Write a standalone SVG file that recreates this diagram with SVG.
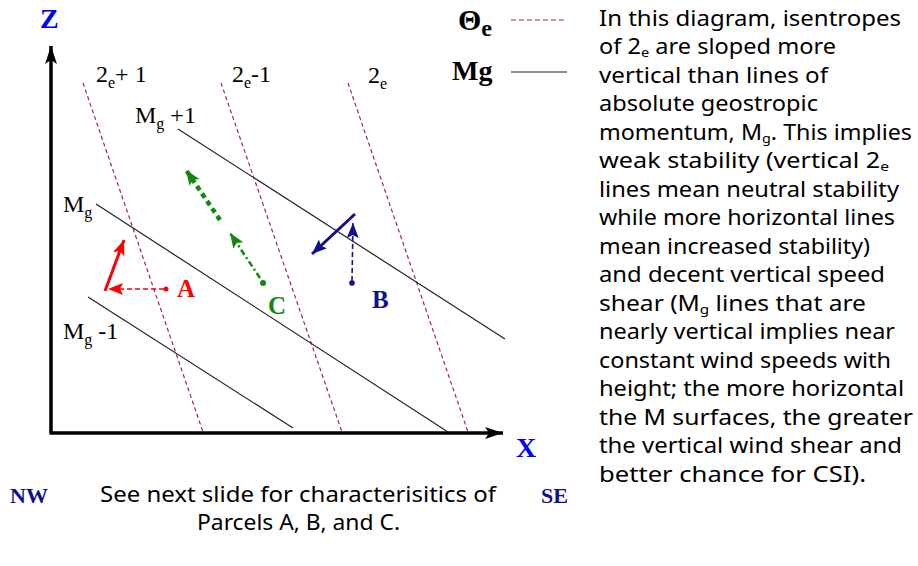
<svg xmlns="http://www.w3.org/2000/svg" width="918" height="566" viewBox="0 0 918 566">
<style>
.serif{font-family:"Liberation Serif","Times New Roman",serif;fill:#000}
.lbl{font-size:24px}
.sub{font-size:16px}
.body{font-family:"Noto Sans","Open Sans",sans-serif;font-size:21px;fill:#000}
.bsub{font-size:13px}
.ise{stroke:#a52a2a;stroke-width:1.2;stroke-dasharray:4,3;fill:none}
.mg{stroke:#222;stroke-width:1.2;fill:none}
.axis{stroke:#000;stroke-width:3.5;fill:none}
.bold{font-weight:bold}
</style>
<defs>
<marker id="ahK" markerUnits="userSpaceOnUse" markerWidth="20" markerHeight="14" refX="18" refY="6" orient="auto"><path d="M0,0 L18,6 L0,12 L4,6 z" fill="#000"/></marker>
<marker id="ahR" markerUnits="userSpaceOnUse" markerWidth="18" markerHeight="14" refX="15" refY="6" orient="auto"><path d="M0,0 L15,6 L0,12 L3,6 z" fill="#ff0000"/></marker>
<marker id="ahG" markerUnits="userSpaceOnUse" markerWidth="18" markerHeight="14" refX="15" refY="6" orient="auto"><path d="M0,0 L15,6 L0,12 L3,6 z" fill="#118811"/></marker>
<marker id="ahB" markerUnits="userSpaceOnUse" markerWidth="18" markerHeight="14" refX="15" refY="6" orient="auto"><path d="M0,0 L15,6 L0,12 L3,6 z" fill="#10108a"/></marker>
</defs>

<g id="axes">
<line class="axis" x1="51" y1="433" x2="51" y2="46" marker-end="url(#ahK)"/>
<line class="axis" x1="49.5" y1="433" x2="503" y2="433" marker-end="url(#ahK)"/>
<text x="40" y="28" class="serif bold" font-size="28" style="fill:#0000ff">Z</text>
<text x="516" y="457" class="serif bold" font-size="28" style="fill:#0000ff">X</text>
</g>

<g id="isentropes">
<line class="ise" x1="83" y1="83" x2="203" y2="432"/>
<line class="ise" x1="221" y1="83" x2="342" y2="432"/>
<line class="ise" x1="348" y1="83" x2="468" y2="432"/>
<text class="serif lbl" x="96" y="82">2<tspan class="sub" dy="6">e</tspan><tspan dy="-6">+ 1</tspan></text>
<text class="serif lbl" x="232" y="82">2<tspan class="sub" dy="6">e</tspan><tspan dy="-6">-1</tspan></text>
<text class="serif lbl" x="368" y="83">2<tspan class="sub" dy="6">e</tspan></text>
</g>

<g id="momentum">
<line class="mg" x1="178" y1="129" x2="505" y2="339"/>
<line class="mg" x1="96" y1="204" x2="448" y2="432"/>
<line class="mg" x1="88" y1="297" x2="293" y2="428"/>
<text class="serif lbl" x="135" y="123">M<tspan class="sub" dy="6">g</tspan><tspan dy="-6"> +1</tspan></text>
<text class="serif lbl" x="63" y="212">M<tspan class="sub" dy="6">g</tspan></text>
<text class="serif lbl" x="63" y="339">M<tspan class="sub" dy="6">g</tspan><tspan dy="-6"> -1</tspan></text>
</g>

<g id="legend">
<text class="serif bold" x="458" y="30" font-size="30">Θ<tspan dy="6" font-size="24">e</tspan></text>
<line x1="511" y1="20" x2="567" y2="20" stroke="#b22222" stroke-width="1.2" stroke-dasharray="5,3"/>
<text class="serif bold" x="452" y="80" font-size="28">Mg</text>
<line x1="511" y1="72" x2="567" y2="72" stroke="#222" stroke-width="1.2"/>
</g>

<g id="parcelA">
<circle cx="166" cy="289" r="2.5" fill="#ff0000"/>
<line x1="164" y1="289" x2="108" y2="289" stroke="#ff0000" stroke-width="1.6" stroke-dasharray="5,3" marker-end="url(#ahR)"/>
<line x1="105" y1="291" x2="124" y2="240" stroke="#ff0000" stroke-width="3" marker-end="url(#ahR)"/>
<text class="serif bold" x="177" y="297" font-size="25" style="fill:#ff0000">A</text>
</g>

<g id="parcelC">
<circle cx="263" cy="283" r="3" fill="#118811"/>
<line x1="260" y1="278" x2="230" y2="233" stroke="#118811" stroke-width="2.5" stroke-dasharray="6,3,2,3" marker-end="url(#ahG)"/>
<line x1="220" y1="220" x2="186" y2="170" stroke="#118811" stroke-width="4.5" stroke-dasharray="5,4" marker-end="url(#ahG)"/>
<text class="serif bold" x="268" y="314" font-size="25" style="fill:#118811">C</text>
</g>

<g id="parcelB">
<circle cx="352" cy="283" r="2.8" fill="#10108a"/>
<line x1="352" y1="281" x2="353" y2="223" stroke="#10108a" stroke-width="1.6" stroke-dasharray="5,3" marker-end="url(#ahB)"/>
<line x1="355" y1="214" x2="312" y2="254" stroke="#10108a" stroke-width="3" marker-end="url(#ahB)"/>
<text class="serif bold" x="372" y="308" font-size="25" style="fill:#10108a">B</text>
</g>

<g id="directions">
<text class="serif bold" x="10" y="503" font-size="22" style="fill:#10108a">NW</text>
<text class="serif bold" x="541" y="503" font-size="22" style="fill:#10108a">SE</text>
</g>

<g id="caption">
<text class="body" x="100" y="502" textLength="396" lengthAdjust="spacingAndGlyphs">See next slide for characterisitics of</text>
<text class="body" x="197" y="530" textLength="203" lengthAdjust="spacingAndGlyphs">Parcels A, B, and C.</text>
</g>

<g id="explanation">
<text class="body" x="599" y="26" textLength="302" lengthAdjust="spacingAndGlyphs">In this diagram, isentropes</text>
<text class="body" x="599" y="54" textLength="237" lengthAdjust="spacingAndGlyphs">of 2<tspan class="bsub" dy="3">e</tspan><tspan dy="-3"> are sloped more</tspan></text>
<text class="body" x="599" y="83" textLength="229" lengthAdjust="spacingAndGlyphs">vertical than lines of</text>
<text class="body" x="599" y="111" textLength="219" lengthAdjust="spacingAndGlyphs">absolute geostropic</text>
<text class="body" x="599" y="140" textLength="313" lengthAdjust="spacingAndGlyphs">momentum, M<tspan class="bsub" dy="3">g</tspan><tspan dy="-3">.  This implies</tspan></text>
<text class="body" x="599" y="168" textLength="290" lengthAdjust="spacingAndGlyphs">weak stability (vertical 2<tspan class="bsub" dy="3">e</tspan></text>
<text class="body" x="599" y="197" textLength="300" lengthAdjust="spacingAndGlyphs">lines mean neutral stability</text>
<text class="body" x="599" y="225" textLength="296" lengthAdjust="spacingAndGlyphs">while more horizontal lines</text>
<text class="body" x="599" y="254" textLength="271" lengthAdjust="spacingAndGlyphs">mean increased stability)</text>
<text class="body" x="599" y="282" textLength="286" lengthAdjust="spacingAndGlyphs">and decent vertical speed</text>
<text class="body" x="599" y="311" textLength="267" lengthAdjust="spacingAndGlyphs">shear (M<tspan class="bsub" dy="3">g</tspan><tspan dy="-3"> lines that are</tspan></text>
<text class="body" x="599" y="339" textLength="296" lengthAdjust="spacingAndGlyphs">nearly vertical implies near</text>
<text class="body" x="599" y="368" textLength="292" lengthAdjust="spacingAndGlyphs">constant wind speeds with</text>
<text class="body" x="599" y="396" textLength="305" lengthAdjust="spacingAndGlyphs">height; the more horizontal</text>
<text class="body" x="599" y="425" textLength="314" lengthAdjust="spacingAndGlyphs">the M surfaces, the greater</text>
<text class="body" x="599" y="453" textLength="303" lengthAdjust="spacingAndGlyphs">the vertical wind shear and</text>
<text class="body" x="599" y="482" textLength="267" lengthAdjust="spacingAndGlyphs">better chance for CSI).</text>
</g>
</svg>
